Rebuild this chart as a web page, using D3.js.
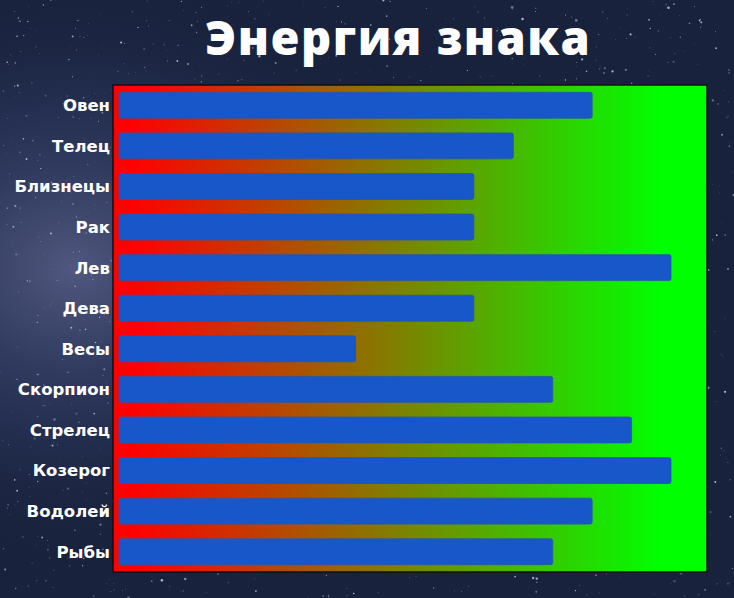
<!DOCTYPE html>
<html>
<head>
<meta charset="utf-8">
<script src="https://cdn.jsdelivr.net/npm/d3@7"></script>
<style>
  html, body { margin: 0; padding: 0; background: #16203a; }
  svg { display: block; }
</style>
</head>
<body>
<div class="container"></div>
<script>
const width = 734, height = 598;
const margin = {top: 85, right: 27, bottom: 26, left: 113};

// data
const signs = ["Овен", "Телец", "Близнецы", "Рак", "Лев", "Дева", "Весы", "Скорпион", "Стрелец", "Козерог", "Водолей", "Рыбы"];
const energy = [12, 10, 9, 9, 14, 9, 6, 11, 13, 14, 12, 11];
const title = "Энергия знака";

const data = signs.map((s, i) => ({sign: s, value: energy[i]}));

const svg = d3.select(".container")
    .append("svg")
    .attr("width", width)
    .attr("height", height);

const defs = svg.append("defs");

// space background
const bg = defs.append("radialGradient").attr("id", "milky")
    .attr("cx", "0.1").attr("cy", "0.45").attr("r", "0.5");
bg.append("stop").attr("offset", "0%").attr("stop-color", "#6a6f9c").attr("stop-opacity", 0.7);
bg.append("stop").attr("offset", "55%").attr("stop-color", "#3a4676").attr("stop-opacity", 0.35);
bg.append("stop").attr("offset", "100%").attr("stop-color", "#1a2645").attr("stop-opacity", 0);

const plotGrad = defs.append("linearGradient").attr("id", "plotGrad")
    .attr("x1", "0").attr("x2", "1").attr("y1", "0").attr("y2", "0");
plotGrad.append("stop").attr("offset", "3%").attr("stop-color", "#ff0000");
plotGrad.append("stop").attr("offset", "92%").attr("stop-color", "#00ff00");

svg.append("rect").attr("width", width).attr("height", height).attr("fill", "#18223c");
svg.append("rect").attr("width", width).attr("height", height).attr("fill", "url(#milky)");

// stars (decoration, seeded)
const rnd = d3.randomLcg(0.42);
const stars = d3.range(1600).map(() => ({x: rnd() * width, y: rnd() * height, r: rnd() * rnd() * 1.2 + 0.3, o: rnd() * 0.6 + 0.2}));
svg.append("g")
    .selectAll("circle")
    .data(stars)
    .enter()
    .append("circle")
    .attr("cx", d => d.x)
    .attr("cy", d => d.y)
    .attr("r", d => d.r)
    .attr("fill", "#dfe6ff")
    .attr("opacity", d => d.o);

const x = d3.scaleLinear().domain([0, 14]).range([119, 671]);
const y = d3.scaleBand().domain(signs)
    .range([margin.top, height - margin.bottom])
    .paddingInner(0.36).paddingOuter(0.18);

// plot area
svg.append("rect")
    .attr("x", margin.left)
    .attr("y", margin.top)
    .attr("width", width - margin.left - margin.right)
    .attr("height", height - margin.top - margin.bottom)
    .attr("fill", "url(#plotGrad)")
    .attr("stroke", "#111")
    .attr("stroke-width", 1.5);

svg.append("g")
    .selectAll("rect")
    .data(data)
    .enter()
    .append("rect")
    .attr("x", x(0))
    .attr("y", d => y(d.sign))
    .attr("width", d => x(d.value) - x(0))
    .attr("height", y.bandwidth())
    .attr("rx", 2)
    .attr("fill", "#1757c9")
    .attr("stroke", "#2a55a8")
    .attr("stroke-width", 0.8);

// labels
svg.append("g")
    .selectAll("text")
    .data(data)
    .enter()
    .append("text")
    .attr("x", margin.left - 3)
    .attr("y", d => y(d.sign) + y.bandwidth() / 2)
    .attr("dy", "0.36em")
    .attr("text-anchor", "end")
    .attr("fill", "#fff")
    .style("font-family", "'DejaVu Sans', sans-serif")
    .style("font-weight", "bold")
    .style("font-size", "16.5px")
    .text(d => d.sign);

svg.append("text")
    .attr("x", 398)
    .attr("y", 55)
    .attr("text-anchor", "middle")
    .attr("fill", "#fff")
    .style("font-family", "'Open Sans', sans-serif")
    .style("font-weight", "800")
    .style("font-size", "47px")
    .style("letter-spacing", "1.5px")
    .text(title);
</script>
</body>
</html>
